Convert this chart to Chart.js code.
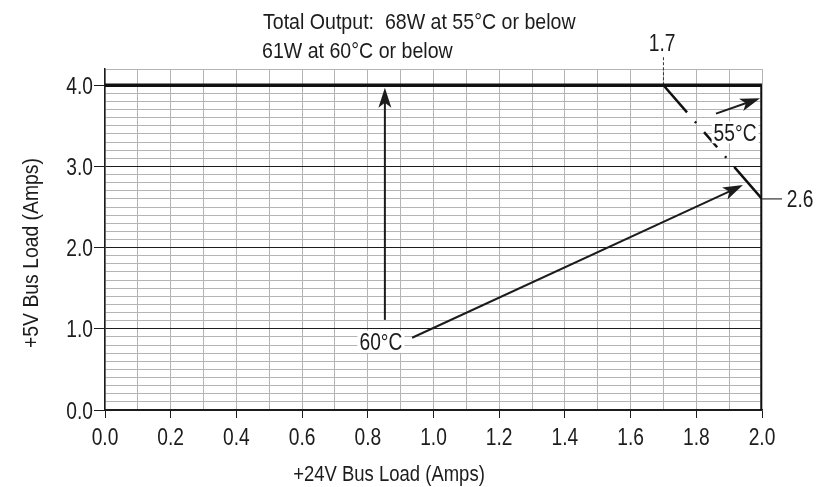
<!DOCTYPE html>
<html>
<head>
<meta charset="utf-8">
<script src="https://cdn.jsdelivr.net/npm/chart.js@4.4.0/dist/chart.umd.min.js"></script>
<style>
  html, body { margin: 0; padding: 0; background: #fff; }
  #wrap { width: 830px; height: 487px; }
</style>
</head>
<body>
<div id="wrap"><canvas id="derating"></canvas></div>
<script>
const FONT = '"Liberation Sans", Arial, sans-serif';
const INK = '#1c1c1c';

// tick labels
const xTickValues = [0, 0.2, 0.4, 0.6, 0.8, 1.0, 1.2, 1.4, 1.6, 1.8, 2.0];
const xTickLabels = ['0.0', '0.2', '0.4', '0.6', '0.8', '1.0', '1.2', '1.4', '1.6', '1.8', '2.0'];
const yTickValues = [0, 1, 2, 3, 4];
const yTickLabels = ['0.0', '1.0', '2.0', '3.0', '4.0'];

// 60C limit: 4.0A on +5V across, 2.0A on +24V down
const limit60X = [0, 2.0, 2.0];
const limit60Y = [4.0, 4.0, 0];
// 55C limit cuts the corner from 1.7 to 2.6
const limit55X = [1.7, 2.0];
const limit55Y = [4.0, 2.6];
// little marker lines for the 1.7 and 2.6 callouts
const mark17X = [1.7, 1.7];
const mark17Y = [4.0, 4.35];
const mark26X = [2.0, 2.061];
const mark26Y = [2.6, 2.6];

// arrows (start -> tip)
const arrowFromX = [0.852, 0.935, 1.86];
const arrowFromY = [1.11, 0.89, 3.65];
const arrowToX = [0.852, 1.942, 1.994];
const arrowToY = [3.97, 2.77, 3.84];

// labels on the plot
const noteText = ['60°C', '55°C', '1.7', '2.6'];
const noteX = [0.84, 1.918, 1.696, 2.116];
const noteY = [0.84, 3.42, 4.53, 2.6];

const titleLines = ['Total Output:  68W at 55°C or below', '61W at 60°C or below'];

function pts(xs, ys) {
    return xs.map((x, i) => ({ x: x, y: ys[i] }));
}

function isWhole(v, step) {
    return Math.abs(Math.round(v / step) * step - v) < 1e-6;
}

// grid every 0.1 on both axes
function gridTicks(max) {
    const out = [];
    for (let i = 0; i <= Math.round(max * 10); i++) out.push({ value: i / 10 });
    return out;
}

// condensed text: squeeze horizontally like the original narrow face
function squeezed(ctx, text, x, y, size, sx, align) {
    ctx.save();
    ctx.font = size + 'px ' + FONT;
    const w = ctx.measureText(text).width * sx;
    let left = x;
    if (align === 'center') left = x - w / 2;
    if (align === 'right') left = x - w;
    ctx.translate(left, y);
    ctx.scale(sx, 1);
    ctx.textAlign = 'left';
    ctx.fillText(text, 0, 0);
    ctx.restore();
    return w;
}

const notes = {
    id: 'notes',
    afterDatasetsDraw(chart) {
        const ctx = chart.ctx;
        const xs = chart.scales.x, ys = chart.scales.y;
        ctx.save();
        ctx.fillStyle = INK;
        ctx.textBaseline = 'alphabetic';

        // tick labels
        xTickValues.forEach((v, i) => {
            squeezed(ctx, xTickLabels[i], xs.getPixelForValue(v), 445, 24, 0.8, 'center');
        });
        yTickValues.forEach((v, i) => {
            squeezed(ctx, yTickLabels[i], 93, ys.getPixelForValue(v) + 8.5, 24, 0.8, 'right');
        });

        // arrows
        ctx.strokeStyle = INK;
        ctx.lineWidth = 2;
        for (let i = 0; i < arrowFromX.length; i++) {
            const x1 = xs.getPixelForValue(arrowFromX[i]), y1 = ys.getPixelForValue(arrowFromY[i]);
            const x2 = xs.getPixelForValue(arrowToX[i]), y2 = ys.getPixelForValue(arrowToY[i]);
            const a = Math.atan2(y2 - y1, x2 - x1);
            const c = Math.cos(a), s = Math.sin(a);
            const len = 20, half = 6.5;
            ctx.beginPath();
            ctx.moveTo(x1, y1);
            ctx.lineTo(x2 - c * 10, y2 - s * 10);
            ctx.stroke();
            ctx.beginPath();
            ctx.moveTo(x2, y2);
            ctx.lineTo(x2 - c * len - s * half, y2 - s * len + c * half);
            ctx.lineTo(x2 - c * 15, y2 - s * 15);
            ctx.lineTo(x2 - c * len + s * half, y2 - s * len - c * half);
            ctx.closePath();
            ctx.fill();
        }

        // labels on the plot
        for (let i = 0; i < noteText.length; i++) {
            const px = xs.getPixelForValue(noteX[i]), py = ys.getPixelForValue(noteY[i]);
            ctx.font = '24px ' + FONT;
            const w = ctx.measureText(noteText[i]).width * 0.8;
            if (i < 2) {
                ctx.fillStyle = '#fff';
                ctx.fillRect(px - w / 2 - 2, py - 11, w + 4, 22);
                ctx.fillStyle = INK;
            }
            squeezed(ctx, noteText[i], px, py + 8.5, 24, 0.8, 'center');
        }

        // header text
        squeezed(ctx, titleLines[0], 263, 29, 22, 0.89, 'left');
        squeezed(ctx, titleLines[1], 262, 58, 22, 0.89, 'left');

        // axis titles
        squeezed(ctx, '+24V Bus Load (Amps)', 389, 481, 22, 0.84, 'center');
        ctx.translate(38, 253);
        ctx.rotate(-Math.PI / 2);
        squeezed(ctx, '+5V Bus Load (Amps)', 0, 0, 22, 0.88, 'center');
        ctx.restore();
    }
};

new Chart(document.getElementById('derating'), {
    type: 'scatter',
    data: {
        datasets: [
            { data: pts(limit60X, limit60Y), borderColor: '#111', borderWidth: 3.5 },
            { data: pts(limit55X, limit55Y), borderColor: '#111', borderWidth: 2.5,
              borderDash: [36, 12, 2, 12, 20, 12, 2, 12, 60] },
            { data: pts(mark17X, mark17Y), borderColor: '#333', borderWidth: 1, borderDash: [3, 2], clip: false },
            { data: pts(mark26X, mark26Y), borderColor: '#333', borderWidth: 1.2, clip: false }
        ]
    },
    options: {
        responsive: true,
        maintainAspectRatio: false,
        animation: false,
        showLine: true,
        elements: { point: { radius: 0, hoverRadius: 0 }, line: { tension: 0 } },
        layout: { padding: { top: 69, right: 68, left: 0, bottom: 0 } },
        plugins: { legend: { display: false }, tooltip: { enabled: false } },
        scales: {
            x: {
                type: 'linear', min: 0, max: 2.0,
                afterBuildTicks: (s) => { s.ticks = gridTicks(2.0); },
                afterFit: (s) => { s.height = 77; },
                ticks: { display: false },
                grid: {
                    color: '#b4b4b4', lineWidth: 1, tickLength: 8,
                    tickColor: (c) => isWhole(c.tick.value, 0.2) ? INK : 'rgba(0,0,0,0)'
                },
                border: { color: INK, width: 1.5 }
            },
            y: {
                type: 'linear', min: 0, max: 4.2,
                afterBuildTicks: (s) => { s.ticks = gridTicks(4.2); },
                afterFit: (s) => { s.width = 105; },
                ticks: { display: false },
                grid: {
                    tickLength: 11, lineWidth: 1,
                    color: (c) => {
                        const v = c.tick.value;
                        if (Math.abs(v - 4.1) < 1e-6) return 'rgba(0,0,0,0)';
                        return isWhole(v, 1) && v <= 4 ? INK : '#b4b4b4';
                    },
                    tickColor: (c) => isWhole(c.tick.value, 1) && c.tick.value <= 4 ? INK : 'rgba(0,0,0,0)'
                },
                border: { color: INK, width: 1.5 }
            }
        }
    },
    plugins: [notes]
});
</script>
</body>
</html>
